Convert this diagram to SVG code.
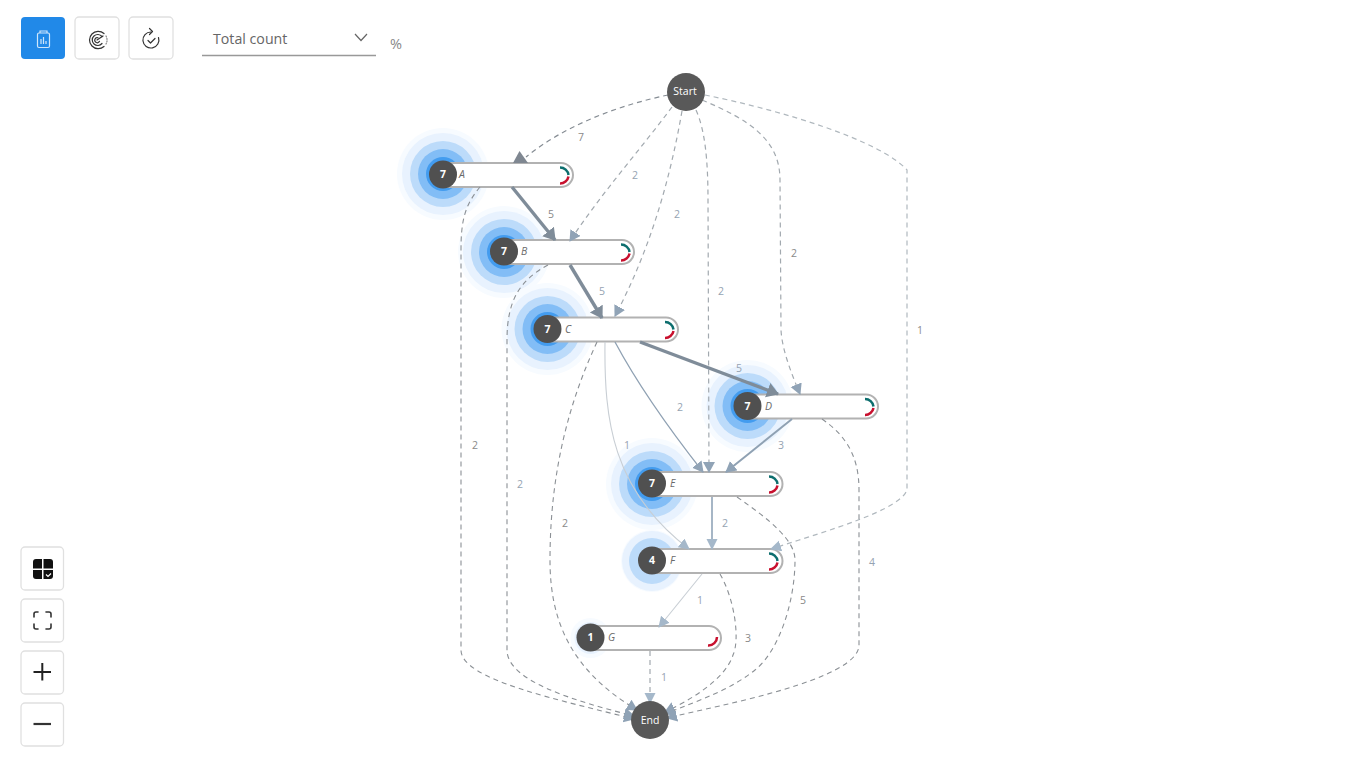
<svg xmlns="http://www.w3.org/2000/svg" width="1366" height="768" viewBox="0 0 1366 768">
<style>
text{font-family:"Open Sans","Noto Sans","Liberation Sans",sans-serif}
.btn{fill:#fff;stroke:#e0e0e0;stroke-width:1.3}
.ic{fill:none;stroke:#333;stroke-width:1.2;stroke-linecap:round;stroke-linejoin:round}
.pill{fill:#fff;stroke:#b2b2b2;stroke-width:2}
.cn{fill:#505050}
.num{font-size:10.5px;font-weight:700;fill:#fff;text-anchor:middle}
.nm{font-size:10.5px;font-style:italic;fill:#6a6a6a}
.big{font-size:10.5px;fill:#fff;text-anchor:middle}
.r1{fill:#f7fbff}.r2{fill:#e8f2fe}.r3{fill:#bcdbfa}.r4{fill:#82bdf6}.r5{fill:#439cef}
.arc{fill:none;stroke-width:2.5}
.t{stroke:#0d6e6e}.c{stroke:#c8102e}
.e{fill:none}
.d{stroke:#8b9095;stroke-width:1.1;stroke-dasharray:5 4}
.db{stroke:#a2a9af;stroke-width:1.2;stroke-dasharray:5 4}
.th{stroke:#7f8c99;stroke-width:3.4}
.md{stroke:#8fa1b3;stroke-width:1.3}
.md2{stroke:#8fa1b3;stroke-width:2}
.e2{stroke:#a6b6c6;stroke-width:2}
.lt{stroke:#c8ced4;stroke-width:1.1}
.lb{font-size:10.5px;text-anchor:middle;fill:#95a3b2}
.lg{font-size:10.5px;text-anchor:middle;fill:#8a8a8a}
</style>
<defs>
<marker id="ah" markerUnits="userSpaceOnUse" markerWidth="14" markerHeight="16" refX="11" refY="7.500" orient="auto"><path d="M0,0L12,7.500L0,15Z" fill="#7f8c99"/></marker>
<marker id="am" markerUnits="userSpaceOnUse" markerWidth="14" markerHeight="14" refX="10" refY="6" orient="auto"><path d="M0,0L11,6L0,12Z" fill="#90a3b6"/></marker>
<marker id="al" markerUnits="userSpaceOnUse" markerWidth="14" markerHeight="14" refX="10" refY="5.500" orient="auto"><path d="M0,0L11,5.500L0,11Z" fill="#a5b8ca"/></marker>
<g id="gauge"><path class="arc t" d="M-8.500,-7.500a8.500,8.500 0 0 1 8.500,7.500"/><path class="arc c" d="M0,1.500a8.500,8.500 0 0 1 -8.500,7"/></g>
</defs>

<g id="toolbar">
<rect x="21" y="17" width="44" height="42" rx="4" fill="#2189e8"/>
<rect class="btn" x="75" y="17" width="44" height="42" rx="4"/>
<rect class="btn" x="129" y="17" width="44" height="42" rx="4"/>
<g fill="none" stroke="#cfe6fb" stroke-width="1.2"><rect x="37.500" y="33" width="12" height="14.500" rx="1.500"/><path d="M40,33v-2h7v2"/><path d="M41 44v-5M43.500 44v-7M46 44v-3"/></g>
<g class="ic"><path d="M104,33.500a8.700,8.700 0 1 0 0,13"/><path d="M102,36.500a5.500,5.500 0 1 0 0,7"/><path d="M98,37.800a2.500,2.500 0 1 0 1.500,3.500"/><path d="M97,40l6,-4"/><path d="M106,36a8,8 0 0 1 0,8" stroke="#888" stroke-dasharray="1 1.500"/></g>
<g class="ic"><path d="M151,32A8,8 0 1 0 158.500,37.500"/><path d="M149.500,28.500l3,3l-3,3"/><path d="M148,40.500l2.500,2.500l4.500,-4.500"/></g>
<text x="213" y="43.500" font-size="14.200" fill="#666">Total count</text>
<path d="M355,34l6,6.500l6,-6.500" fill="none" stroke="#666" stroke-width="1.200"/>
<line x1="202" y1="55.500" x2="376" y2="55.500" stroke="#999" stroke-width="1.500"/>
<text x="390" y="49" font-size="14.500" fill="#888">%</text>
</g>

<g id="zoom-controls">
<rect class="btn" x="21" y="547" width="42.500" height="43" rx="4"/>
<rect class="btn" x="21" y="599" width="42.500" height="43" rx="4"/>
<rect class="btn" x="21" y="651" width="42.500" height="43" rx="4"/>
<rect class="btn" x="21" y="703" width="42.500" height="43" rx="4"/>
<g fill="#111"><path d="M33,562a3,3 0 0 1 3,-3h6v9.500h-9Z"/><path d="M43.500,559h6.500a3,3 0 0 1 3,3v6.500h-9.500Z"/><path d="M33,570h9v9h-6a3,3 0 0 1 -3,-3Z"/><path d="M43.500,570h9.500v6a3,3 0 0 1 -3,3h-6.500Z"/></g>
<path d="M46,574.500l2,2l3,-3" fill="none" stroke="#fff" stroke-width="1.200"/>
<path class="ic" d="M34,617v-3a2,2 0 0 1 2,-2h2M46,612h3a2,2 0 0 1 2,2v3M51,624v3a2,2 0 0 1 -2,2h-3M38,629h-2a2,2 0 0 1 -2,-2v-3" style="stroke-width:1.600"/>
<path d="M33.500,672h17.500M42.300,663v17.500" stroke="#222" stroke-width="2" fill="none"/>
<path d="M33.500,724h17.500" stroke="#333" stroke-width="2.200" fill="none"/>
</g>

<g id="node-a"><circle class="r1" cx="443" cy="174" r="46"/><circle class="r2" cx="443" cy="174" r="41"/><circle class="r3" cx="443" cy="174" r="33"/><circle class="r4" cx="443" cy="174" r="25"/><circle class="r5" cx="443" cy="174" r="17"/>
<rect class="pill" x="436" y="163" width="137" height="24" rx="12"/><circle class="cn" cx="443" cy="174.500" r="14"/><text class="num" x="443" y="178">7</text><text class="nm" x="459" y="178">A</text>
<use href="#gauge" x="568.500" y="175"/></g>

<g id="node-b"><circle class="r1" cx="504" cy="252" r="46"/><circle class="r2" cx="504" cy="252" r="41"/><circle class="r3" cx="504" cy="252" r="33"/><circle class="r4" cx="504" cy="252" r="25"/><circle class="r5" cx="504" cy="252" r="17"/>
<rect class="pill" x="497" y="240" width="137" height="24" rx="12"/><circle class="cn" cx="504" cy="251.500" r="14"/><text class="num" x="504" y="255">7</text><text class="nm" x="521" y="255">B</text>
<use href="#gauge" x="629.500" y="252"/></g>

<g id="node-c"><circle class="r1" cx="547.500" cy="329" r="46"/><circle class="r2" cx="547.500" cy="329" r="41"/><circle class="r3" cx="547.500" cy="329" r="33"/><circle class="r4" cx="547.500" cy="329" r="25"/><circle class="r5" cx="547.500" cy="329" r="17"/>
<rect class="pill" x="541" y="317.500" width="137" height="24" rx="12"/><circle class="cn" cx="547.500" cy="329" r="14"/><text class="num" x="547.500" y="332.500">7</text><text class="nm" x="565" y="332.500">C</text>
<use href="#gauge" x="673.500" y="329.500"/></g>

<g id="node-d"><circle class="r1" cx="747.500" cy="406" r="46"/><circle class="r2" cx="747.500" cy="406" r="41"/><circle class="r3" cx="747.500" cy="406" r="33"/><circle class="r4" cx="747.500" cy="406" r="25"/><circle class="r5" cx="747.500" cy="406" r="17"/>
<rect class="pill" x="741" y="394.500" width="137" height="24" rx="12"/><circle class="cn" cx="747.500" cy="406" r="14"/><text class="num" x="747.500" y="409.500">7</text><text class="nm" x="765" y="409.500">D</text>
<use href="#gauge" x="873.500" y="406.500"/></g>

<g id="node-e"><circle class="r1" cx="652" cy="484" r="46"/><circle class="r2" cx="652" cy="484" r="41"/><circle class="r3" cx="652" cy="484" r="33"/><circle class="r4" cx="652" cy="484" r="25"/><circle class="r5" cx="652" cy="484" r="17"/>
<rect class="pill" x="645" y="472" width="137.500" height="24" rx="12"/><circle class="cn" cx="652" cy="483.500" r="14"/><text class="num" x="652" y="487">7</text><text class="nm" x="670" y="487">E</text>
<use href="#gauge" x="777.500" y="484"/></g>

<g id="node-f"><circle class="r1" cx="652" cy="561" r="31"/><circle class="r2" cx="652" cy="561" r="30"/><circle class="r3" cx="652" cy="561" r="23"/>
<rect class="pill" x="645" y="549" width="137.500" height="24" rx="12"/><circle class="cn" cx="652" cy="560.500" r="14"/><text class="num" x="652" y="564">4</text><text class="nm" x="670" y="564">F</text>
<use href="#gauge" x="777.500" y="561"/></g>

<g id="node-g"><circle class="r1" cx="590.500" cy="638" r="20"/><circle class="r2" cx="590.500" cy="638" r="16"/>
<rect class="pill" x="584" y="626" width="137" height="24" rx="12"/><circle class="cn" cx="590.500" cy="637.500" r="14"/><text class="num" x="590.500" y="641">1</text><text class="nm" x="608" y="641">G</text>
<path class="arc c" d="M717,637a8.500,8.500 0 0 1 -9,8.500"/></g>

<g id="connectors">
<path class="e db" style="stroke:#868d94" d="M668,95C620,105 565,125 526,157"/>
<path d="M519.500,151L513,163H528Z" fill="#7f8791"/>
<path class="e db" marker-end="url(#am)" d="M672,107C640,150 600,195 570,241"/>
<path class="e db" marker-end="url(#am)" d="M682,111C670,180 650,250 615,316"/>
<path class="e db" marker-end="url(#am)" d="M696,110C705,130 708,160 708,200L709,472"/>
<path class="e db" marker-end="url(#am)" d="M702,100C750,120 780,140 780,180L781,330C782,350 792,375 800,394"/>
<path class="e db" style="stroke:#b0b8be" marker-end="url(#al)" d="M705,95C780,110 880,140 907,170L907,490C900,510 830,530 771,549"/>
<path class="e th" marker-end="url(#ah)" d="M512,187L555,240"/>
<path class="e th" marker-end="url(#ah)" d="M570,265L602,318"/>
<path class="e th" marker-end="url(#ah)" d="M640,342L778,394"/>
<path class="e md" marker-end="url(#am)" d="M615,342C638,385 670,430 703,472"/>
<path class="e lt" marker-end="url(#al)" d="M605,342C604,420 612,490 689,549"/>
<path class="e md2" marker-end="url(#am)" d="M792,419L726,472"/>
<path class="e e2" marker-end="url(#al)" d="M712,497L712,549"/>
<path class="e lt" marker-end="url(#al)" d="M702,574L659,627"/>
<path class="e db" marker-end="url(#al)" d="M650,651L650,703"/>
<path class="e d" marker-end="url(#am)" d="M720,574C735,600 740,640 733,655C725,680 690,700 665,712"/>
<path class="e d" marker-end="url(#am)" d="M737,497C770,520 795,540 795,560C795,600 780,650 755,670C730,690 700,700 665,714"/>
<path class="e d" marker-end="url(#am)" d="M822,419C845,435 859,455 859,490L859,645C859,680 720,705 667,718"/>
<path class="e d" marker-end="url(#am)" d="M597,342C570,400 550,470 550,560C550,620 570,670 637,710"/>
<path class="e d" marker-end="url(#am)" d="M548,265C520,280 507,300 507,340L507,650C507,680 570,700 634,716"/>
<path class="e d" marker-end="url(#am)" d="M480,187C465,205 461,220 461,250L461,650C461,680 560,700 634,719"/>
</g>

<g id="node-start"><circle cx="686" cy="92" r="19" fill="#595959"/><text class="big" x="685" y="95">Start</text></g>
<g id="node-end"><circle cx="650" cy="720" r="19" fill="#595959"/><text class="big" x="650" y="724">End</text></g>

<g id="labels">
<text class="lg" x="581" y="141">7</text><text class="lb" x="635" y="179">2</text><text class="lb" x="677" y="218">2</text><text class="lb" x="721" y="295">2</text><text class="lg" x="794" y="257">2</text><text class="lg" x="920" y="334">1</text><text class="lg" x="551" y="218">5</text><text class="lb" x="602" y="295">5</text><text class="lb" x="739" y="372">5</text><text class="lb" x="680" y="411">2</text><text class="lb" x="627" y="449">1</text><text class="lb" x="781" y="449">3</text><text class="lg" x="475" y="449">2</text><text class="lb" x="520" y="488">2</text><text class="lg" x="565" y="527">2</text><text class="lb" x="725" y="527">2</text><text class="lb" x="872" y="566">4</text><text class="lg" x="803" y="604">5</text><text class="lb" x="700" y="604">1</text><text class="lg" x="748" y="642">3</text><text class="lb" x="664" y="681">1</text>
</g>
</svg>
